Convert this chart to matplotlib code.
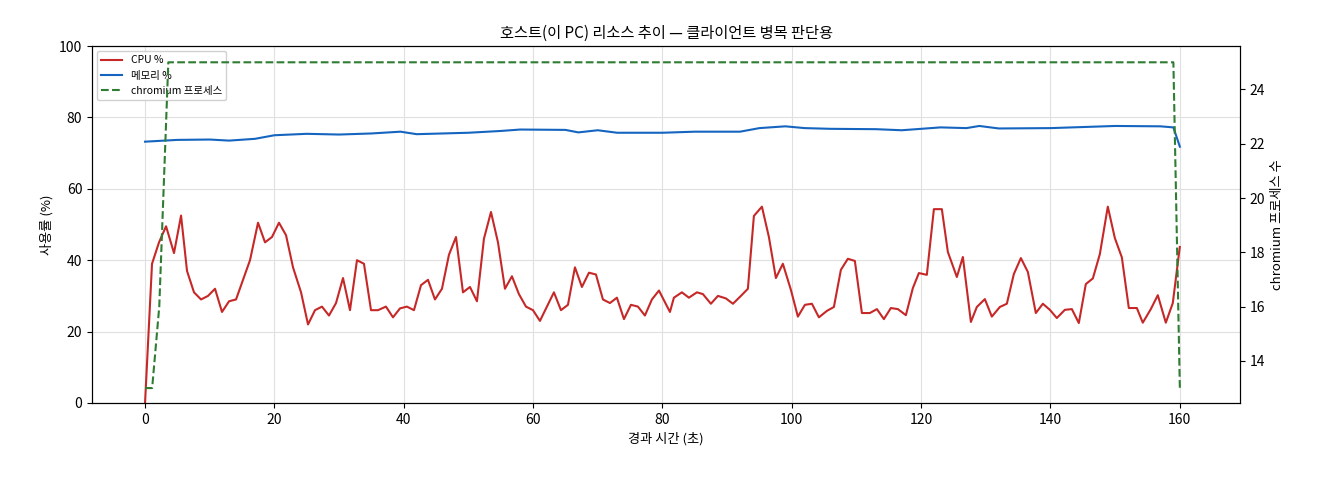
import matplotlib
matplotlib.use("Agg")
import matplotlib.pyplot as plt
import numpy as np

plt.rcParams['font.family'] = ['Noto Sans CJK KR', 'DejaVu Sans']

cpu_px = [145,152,159,166,174,181,187,194,201,208,215,222,229,236,243,250,258,265,272,279,286,293,301,308,315,322,329,336,343,350,357,364,371,378,386,393,400,407,414,421,428,435,442,449,456,463,470,477,484,491,498,505,512,519,526,533,540,547,554,561,568,575,582,589,596,603,610,617,624,631,638,645,652,659,
          670,674,682,689,697,703,711,718,726,733,741,748,754,762,769,776,783,791,798,805,812,819,827,834,841,848,855,862,870,877,884,891,898,906,913,919,927,934,942,948,957,963,971,977,985,992,1000,1007,1014,1021,1028,1036,1043,1050,1057,1065,1072,1079,1086,1093,1100,1108,1115,1122,1129,1137,1143,1151,1158,1166,1173,1180]
cpu_time = [round((p - 145) / 6.469, 2) for p in cpu_px]
cpu = [0,39,45,49.5,42,52.5,37,31,29,30,32,25.5,28.5,29,34.5,40,50.5,45,46.5,50.5,47,38,31,22,26,27,24.5,28,35,26,40,39,26,26,27,24,26.5,27,26,33,34.5,29,32,41.5,46.5,31,32.5,28.5,46,53.5,45,32,35.5,30.5,27,26,23,27,31,26,27.5,38,32.5,36.5,36,29,28,29.5,23.5,27.5,27,24.5,29,31.5,
       25.5,29.5,31,29.5,31,30.5,27.8,30,29.3,27.8,30,32,52.4,55,46.5,35,39,31.7,24.2,27.5,27.8,24,25.8,26.9,37.3,40.4,39.8,25.2,25.2,26.3,23.5,26.6,26.3,24.6,32.2,36.4,35.9,54.3,54.3,42.3,35.3,40.9,22.7,26.9,29.1,24.2,26.9,27.8,36.1,40.6,36.7,25.2,27.8,26.1,23.8,26.1,26.3,22.4,33.3,34.9,41.7,55,46.2,40.8,26.6,26.6,22.5,26.3,30.2,22.5,28,43.7]

mem_time = [0,5,10,13,17,20,25,30,35,39.5,42,50,55,58,65,67,70,73,80,85,92,95,99,102,106,113,117,123,127,129,132,140,150,157,159,160]
mem = [73.2,73.7,73.8,73.5,74,75,75.4,75.2,75.5,76,75.3,75.7,76.2,76.6,76.5,75.8,76.4,75.7,75.7,76,76,77,77.5,77,76.8,76.7,76.4,77.2,77,77.6,76.9,77,77.6,77.5,77.2,71.8]

proc_time = [0,1.1,2.2,3.6,159,160]
proc = [13,13,16,25,25,13]

fig = plt.figure(figsize=(13.2, 4.8), dpi=100)
ax = fig.add_axes([92/1320, 1-403/480, (1240-92)/1320, (403-46)/480])
ax2 = ax.twinx()

l1, = ax.plot(cpu_time, cpu, color='#c62828', lw=1.5, label='CPU %')
l2, = ax.plot(mem_time, mem, color='#1565c0', lw=1.5, label='메모리 %')
l3, = ax2.plot(proc_time, proc, color='#2e7d32', lw=1.5, ls='--', label='chromium 프로세스')

ax.set_xlim(-8.2, 169.3)
ax.set_ylim(0, 100)
ax2.set_ylim(12.45, 25.6)
ax2.set_yticks([14, 16, 18, 20, 22, 24])
ax.grid(True, color='#e0e0e0', lw=0.8)
ax.set_axisbelow(True)
ax.tick_params(labelsize=10)
ax2.tick_params(labelsize=10)
ax.set_xlabel('경과 시간 (초)', fontsize=9.5)
ax.set_ylabel('사용률 (%)', fontsize=9.5)
ax2.set_ylabel('chromium 프로세스 수', fontsize=9.5)
ax.set_title('호스트(이 PC) 리소스 추이 — 클라이언트 병목 판단용', fontsize=11)
ax.legend(handles=[l1, l2, l3], loc='upper left', fontsize=7.5, framealpha=0.9)

fig.savefig('out.png', dpi=100)
